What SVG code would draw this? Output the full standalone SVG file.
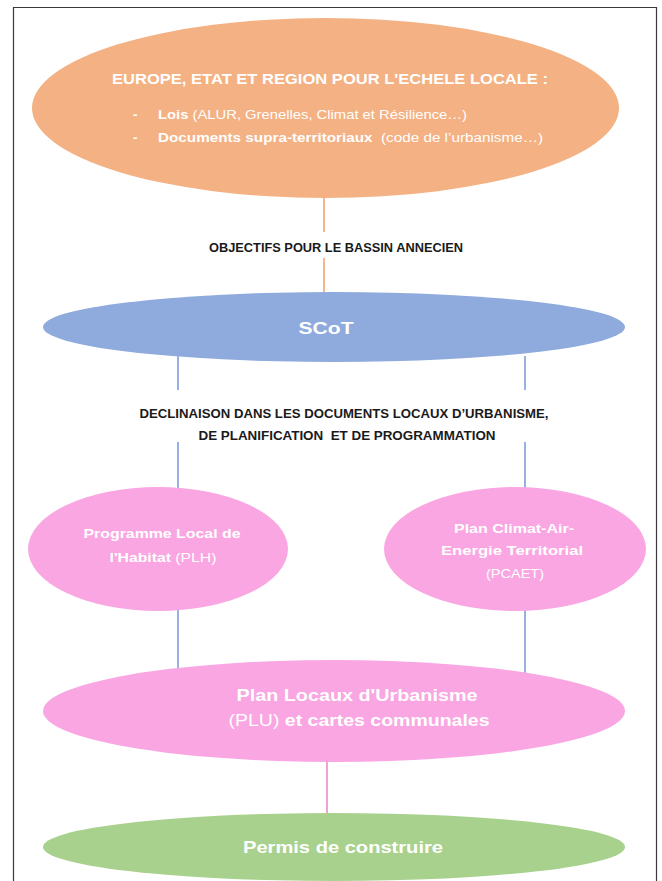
<svg xmlns="http://www.w3.org/2000/svg" width="662" height="881" viewBox="0 0 662 881">
<style>
.w{fill:#ffffff;font-family:"Liberation Sans",Arial,sans-serif}
.b{font-weight:bold}
.n{font-weight:normal}
.k{fill:#1a1a1a;font-family:"Liberation Sans",Arial,sans-serif;font-weight:bold;font-size:13px}
.c{stroke-width:1.6;fill:none}
</style>
<rect x="0" y="0" width="662" height="881" fill="#ffffff"/>
<path d="M13.5 881 V7.5 H656.5 V881" fill="none" stroke="#3a3a3a" stroke-width="1.2"/>
<g id="connectors">
<line class="c" x1="324" y1="197" x2="324" y2="232" stroke="#F2A472"/>
<line class="c" x1="324" y1="258" x2="324" y2="293" stroke="#F2A472"/>
<line class="c" x1="178" y1="356" x2="178" y2="390" stroke="#7E9ED8"/>
<line class="c" x1="525" y1="356" x2="525" y2="390" stroke="#7E9ED8"/>
<line class="c" x1="178" y1="442" x2="178" y2="490" stroke="#7E9ED8"/>
<line class="c" x1="525" y1="442" x2="525" y2="490" stroke="#7E9ED8"/>
<line class="c" x1="178" y1="609" x2="178" y2="669" stroke="#7E9ED8"/>
<line class="c" x1="525" y1="609" x2="525" y2="673" stroke="#7E9ED8"/>
<line class="c" x1="327" y1="760" x2="327" y2="814" stroke="#E98BD3"/>
<text class="k" x="336" y="252" text-anchor="middle" textLength="254" lengthAdjust="spacingAndGlyphs">OBJECTIFS POUR LE BASSIN ANNECIEN</text>
<text class="k" x="344" y="418" text-anchor="middle" textLength="409" lengthAdjust="spacingAndGlyphs">DECLINAISON DANS LES DOCUMENTS LOCAUX D’URBANISME,</text>
<text class="k" x="347" y="440" text-anchor="middle" textLength="297" lengthAdjust="spacingAndGlyphs" xml:space="preserve">DE PLANIFICATION  ET DE PROGRAMMATION</text>
</g>
<g id="europe">
<ellipse cx="325.5" cy="108" rx="293.5" ry="90" fill="#F4B183"/>
<text class="w b" x="330" y="84" font-size="14" text-anchor="middle" textLength="436" lengthAdjust="spacingAndGlyphs">EUROPE, ETAT ET REGION POUR L'ECHELE LOCALE :</text>
<text class="w b" x="133" y="119" font-size="13.5">-</text>
<text class="w" x="158" y="119" font-size="13.5" textLength="309" lengthAdjust="spacingAndGlyphs"><tspan class="b">Lois</tspan><tspan class="n"> (ALUR, Grenelles, Climat et Résilience…)</tspan></text>
<text class="w b" x="133" y="142" font-size="13.5">-</text>
<text class="w" x="158" y="142" font-size="13.5" textLength="385" lengthAdjust="spacingAndGlyphs" xml:space="preserve"><tspan class="b">Documents supra-territoriaux</tspan><tspan class="n">  (code de l’urbanisme…)</tspan></text>
</g>
<g id="scot">
<ellipse cx="334" cy="327" rx="291" ry="35" fill="#8FAADC"/>
<text class="w b" x="326" y="334" font-size="17" text-anchor="middle" textLength="55" lengthAdjust="spacingAndGlyphs">SCoT</text>
</g>
<g id="plh">
<ellipse cx="158" cy="549" rx="130" ry="62" fill="#F9A6E3"/>
<text class="w b" x="162" y="538" font-size="13" text-anchor="middle" textLength="157" lengthAdjust="spacingAndGlyphs">Programme Local de</text>
<text class="w" x="163" y="562" font-size="13" text-anchor="middle" textLength="107" lengthAdjust="spacingAndGlyphs"><tspan class="b">l'Habitat</tspan><tspan class="n"> (PLH)</tspan></text>
</g>
<g id="pcaet">
<ellipse cx="515" cy="549" rx="131" ry="62" fill="#F9A6E3"/>
<text class="w b" x="514" y="533" font-size="13" text-anchor="middle" textLength="120" lengthAdjust="spacingAndGlyphs">Plan Climat-Air-</text>
<text class="w b" x="512" y="555" font-size="13" text-anchor="middle" textLength="142" lengthAdjust="spacingAndGlyphs">Energie Territorial</text>
<text class="w n" x="515" y="578" font-size="13" text-anchor="middle" textLength="58" lengthAdjust="spacingAndGlyphs">(PCAET)</text>
</g>
<g id="plu">
<ellipse cx="334" cy="711" rx="291" ry="51" fill="#F9A6E3"/>
<text class="w b" x="357" y="701" font-size="17" text-anchor="middle" textLength="241" lengthAdjust="spacingAndGlyphs">Plan Locaux d'Urbanisme</text>
<text class="w" x="359" y="726" font-size="17" text-anchor="middle" textLength="261" lengthAdjust="spacingAndGlyphs"><tspan class="n">(PLU)</tspan><tspan class="b"> et cartes communales</tspan></text>
</g>
<g id="permis">
<ellipse cx="334" cy="847" rx="291" ry="34" fill="#A9D18E"/>
<text class="w b" x="343" y="853" font-size="17" text-anchor="middle" textLength="200" lengthAdjust="spacingAndGlyphs">Permis de construire</text>
</g>
</svg>
